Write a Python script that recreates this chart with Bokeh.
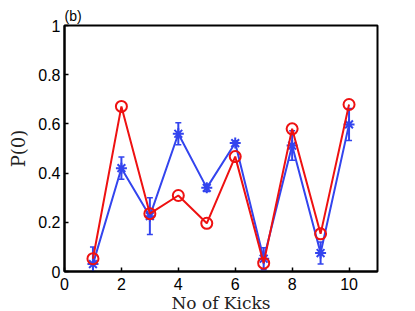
from bokeh.plotting import figure
from bokeh.models import ColumnDataSource, Whisker, Range1d, FixedTicker
from bokeh.embed import file_html
from bokeh.resources import INLINE

kicks = [1, 2, 3, 4, 5, 6, 7, 8, 9, 10]
blue_vals = [0.03, 0.42, 0.225, 0.56, 0.34, 0.522, 0.052, 0.512, 0.075, 0.598]
blue_err = [0.07, 0.045, 0.075, 0.045, 0.015, 0.01, 0.045, 0.06, 0.045, 0.065]
red_vals = [0.052, 0.671, 0.235, 0.309, 0.196, 0.467, 0.034, 0.58, 0.153, 0.679]

x_ticks = [0, 2, 4, 6, 8, 10]
y_ticks = [0, 0.2, 0.4, 0.6, 0.8, 1]
y_tick_labels = {0: "0", 0.2: "0.2", 0.4: "0.4", 0.6: "0.6", 0.8: "0.8", 1: "1"}

BLUE = "#3344ee"
RED = "#ee1111"

p = figure(width=405, height=310, frame_width=313, frame_height=246,
           output_backend="svg", toolbar_location=None,
           x_range=Range1d(0, 11), y_range=Range1d(0, 1),
           min_border_left=64, min_border_right=28, min_border_top=25, min_border_bottom=39)
p.title.text = "(b)"
p.title.text_font = "Liberation Sans"
p.title.text_font_size = "14px"
p.title.text_font_style = "normal"
p.title.text_color = "black"
p.title.offset = 0
p.title.standoff = 3

p.grid.visible = False
p.outline_line_color = "black"
p.outline_line_width = 2
p.background_fill_color = "white"
p.border_fill_color = "white"

for ax in [p.xaxis[0], p.yaxis[0]]:
    ax.major_tick_in = 4
    ax.major_tick_out = 0
    ax.minor_tick_line_color = None
    ax.axis_line_width = 2
    ax.major_tick_line_width = 1.5
    ax.major_label_text_font = "Liberation Sans"
    ax.major_label_text_font_size = "16px"
    ax.major_label_text_color = "black"
    ax.axis_label_text_font = "DejaVu Serif"
    ax.axis_label_text_font_style = "normal"
    ax.axis_label_text_color = "#222222"

p.xaxis[0].axis_label_text_font_size = "17px"
p.yaxis[0].axis_label_text_font_size = "18px"
p.xaxis[0].ticker = FixedTicker(ticks=x_ticks)
p.yaxis[0].ticker = FixedTicker(ticks=y_ticks)
p.yaxis[0].major_label_overrides = y_tick_labels
p.xaxis[0].axis_label = "No of Kicks"
p.yaxis[0].axis_label = "P(0)"
p.xaxis[0].axis_label_standoff = 0
p.yaxis[0].axis_label_standoff = 6
p.xaxis[0].major_label_standoff = 6
p.yaxis[0].major_label_standoff = 4

src = ColumnDataSource(dict(
    x=kicks, blue=blue_vals, red=red_vals,
    upper=[v + e for v, e in zip(blue_vals, blue_err)],
    lower=[max(v - e, 0) for v, e in zip(blue_vals, blue_err)],
))

w = Whisker(source=src, base="x", upper="upper", lower="lower",
            line_color=BLUE, line_width=2)
w.upper_head.line_color = BLUE
w.lower_head.line_color = BLUE
w.upper_head.size = 6
w.lower_head.size = 6
w.upper_head.line_width = 1.5
w.lower_head.line_width = 1.5
p.add_layout(w)

p.line("x", "blue", source=src, line_color=BLUE, line_width=2)
p.scatter("x", "blue", source=src, marker="asterisk", size=11, line_color=BLUE, line_width=2)

p.line("x", "red", source=src, line_color=RED, line_width=2)
p.scatter("x", "red", source=src, marker="circle", size=11, line_color=RED,
          fill_color=None, line_width=2)

open("out.html", "w").write(file_html(p, INLINE))
